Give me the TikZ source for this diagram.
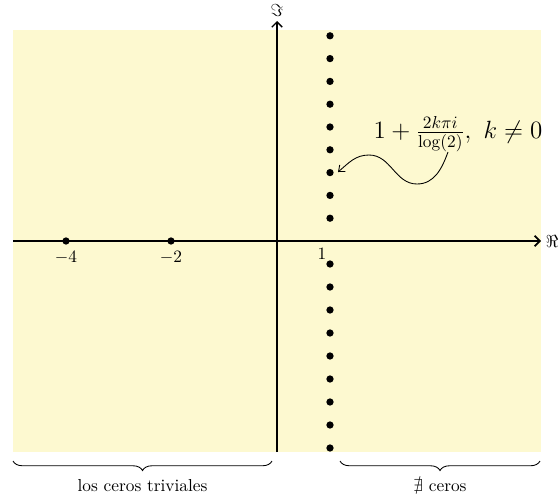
\documentclass[tikz,border=0pt]{standalone}
\usepackage{amsmath,amssymb}
\usetikzlibrary{decorations.pathreplacing,arrows.meta}
\definecolor{bgyellow}{RGB}{253,249,208}
\begin{document}
\begin{tikzpicture}[x=0.577pt,y=0.577pt,
  zero/.style={circle,fill=black,inner sep=0pt,minimum size=4.2pt},
  axis/.style={line width=1pt,-{Straight Barb[length=3pt,width=6pt]}},
  bracestyle/.style={decorate,decoration={brace,mirror,amplitude=5.5pt},line width=0.5pt}]
\useasboundingbox (0,0) rectangle (558,497);
\fill[bgyellow] (13,45) rectangle (541,467);
% axes
\coordinate (xs) at (13,256);
\coordinate (xe) at (541,256);
\coordinate (ys) at (277,45);
\coordinate (ye) at (277,476);
\draw[axis] (xs) -- (xe) node[right=-1pt] (re) {$\Re$};
\draw[axis,line width=0.8pt] (ys) -- (ye) node[above=-1pt] (im) {$\Im$};
% trivial zeros
\node[zero,label={[label distance=0pt]below:$-4$}] (m4) at (66,256) {};
\node[zero,label={[label distance=0pt]below:$-2$}] (m2) at (171,256) {};
\node (one) at (322,243) {$1$};
% nontrivial zeros
\foreach \k in {1,...,9}{
  \node[zero] (u\k) at (330,256+22.8*\k) {};
  \node[zero] (d\k) at (330,256-23*\k) {};
}
\node[font=\Large] (formula) at (458,363) {$1+\frac{2k\pi i}{\log(2)},\ k\neq 0$};
\draw[-{Straight Barb[length=3pt,width=5pt]},line width=0.5pt]
  (448,345) to[out=-110,in=0] (417,313) to[out=180,in=0] (369,342) to[out=180,in=40] (338,325);
% braces
\coordinate (b1s) at (13,36);
\coordinate (b1e) at (272,36);
\coordinate (b2s) at (340,36);
\coordinate (b2e) at (540,36);
\draw[bracestyle] (b1s) -- (b1e) node[midway,below=7pt] (l1) {los ceros triviales};
\draw[bracestyle] (b2s) -- (b2e) node[midway,below=7pt] (l2) {$\nexists$ ceros};
\end{tikzpicture}
\end{document}
